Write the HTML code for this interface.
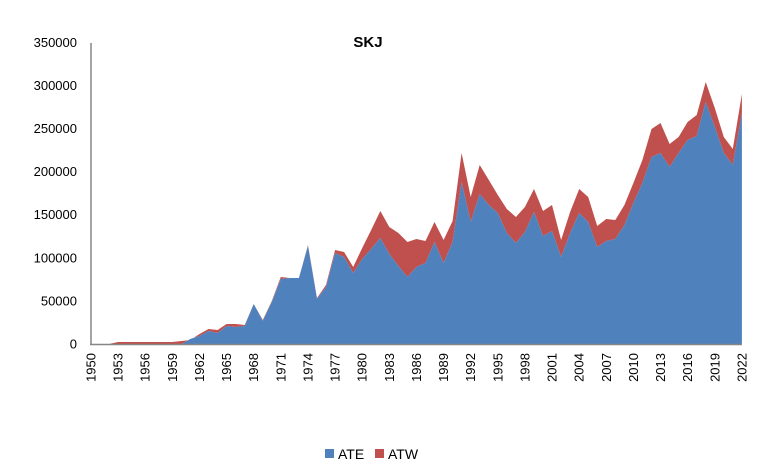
<!DOCTYPE html>
<html><head><meta charset="utf-8"><style>
body{margin:0;background:#fff}
svg{display:block;font-family:"Liberation Sans",sans-serif}
</style></head><body>
<svg id="s" width="770" height="465" xmlns="http://www.w3.org/2000/svg">
<text x="368" y="47" font-size="15" font-weight="bold" text-anchor="middle">SKJ</text>
<g id="g"></g>
<rect x="325" y="449" width="9" height="9" fill="#4f81bd"/>
<text x="338" y="459" font-size="14">ATE</text>
<rect x="375" y="449" width="9" height="9" fill="#c0504d"/>
<text x="388" y="459" font-size="14">ATW</text>
</svg>
<script>
var B=344;
var blue=[344,344,344,344,344,344,344,344,344,344,344,339,336,331,333,326,327,326,304,321,302,279,278,278,246,299,287,253,257,273,259,249,238,254,266,277,267,263,242,263,242,182,222,194,205,213,233,243,232,212,236,231,257,233,213,222,247,241,239,225,203,183,157,153,167,153,140,136,102,127,153,165,113];
var red=[344,344,344,342,342,342,342,342,342,342,341,340,334,329,330,324,324,325,304,320,301,277,278,278,245,298,285,250,252,267,248,230,211,227,233,242,239,241,222,240,221,153,197,165,180,195,209,217,207,189,211,205,240,212,189,197,226,219,220,205,183,160,129,123,144,137,122,115,82,108,137,149,94];
function X(i){return 91+i*9.04;}
var g='';
var bp=[],rp=[];
for(var i=0;i<blue.length;i++){bp.push(X(i).toFixed(1)+','+blue[i]);rp.push(X(i).toFixed(1)+','+red[i]);}
var last=X(blue.length-1).toFixed(1);
var rb=bp.slice().reverse();
g+='<polygon fill="#c0504d" points="'+rp.join(' ')+' '+rb.join(' ')+'"/>';
g+='<polygon fill="#4f81bd" points="91,'+B+' '+bp.join(' ')+' '+last+','+B+'"/>';
g+='<line x1="91" y1="43" x2="91" y2="345" stroke="#868686" stroke-width="1.5"/>';
g+='<line x1="90" y1="344.5" x2="'+last+'" y2="344.5" stroke="#868686" stroke-width="1.5"/>';
for(var k=0;k<=7;k++){var y=344-k*43.1;g+='<text x="77" y="'+(y+4.5)+'" font-size="13" text-anchor="end">'+(k*50000)+'</text>';}
for(var yr=1950;yr<=2022;yr+=3){var x=X(yr-1950)+4.5;g+='<text transform="translate('+x.toFixed(1)+',353) rotate(-90)" font-size="13" text-anchor="end">'+yr+'</text>';}
document.getElementById('g').innerHTML=g;
</script>
</body></html>
